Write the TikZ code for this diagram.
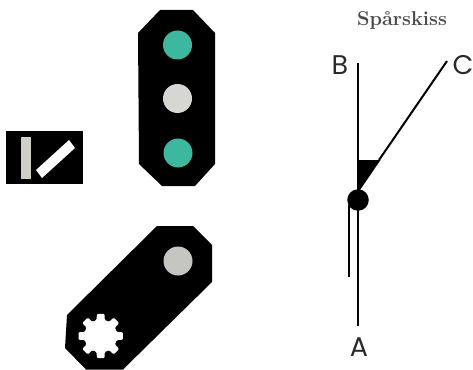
\documentclass[tikz,border=0pt]{standalone}
\usepackage{fontspec}
\setsansfont{Poppins}
\setmainfont{Latin Modern Roman}
\definecolor{lampgreen}{HTML}{3DB89E}
\definecolor{lampgrey}{HTML}{D6D6D2}
\definecolor{barwhite}{HTML}{FFFFFF}
\definecolor{barbeige}{HTML}{CFCFC8}
\definecolor{inkdark}{HTML}{2A2A2A}
\tikzset{
  lamp/.style={circle,minimum size=29pt,inner sep=0pt,draw=none},
  track/.style={line width=2pt,black,line cap=butt},
  tracklabel/.style={font=\sffamily\fontsize{27}{27}\selectfont,text=inkdark,inner sep=0pt},
  titlelabel/.style={font=\rmfamily\bfseries\fontsize{20}{20}\selectfont,text=inkdark!85,inner sep=0pt}
}
\begin{document}
\begin{tikzpicture}[x=1pt,y=-1pt]
\useasboundingbox (0,0) rectangle (473,369);
\clip (0,0) rectangle (473,369);
% main signal
\fill[black] (160,10)--(193,10)--(215,33)--(215,164)--(195,186)--(162,186)--(139,164)--(138,33)--cycle;
\node[lamp,fill=lampgreen] (g1) at (177.5,45) {};
\node[lamp,fill=lampgrey] (w1) at (177.5,98.5) {};
\node[lamp,fill=lampgreen] (g2) at (178,153) {};
% small indicator
\fill[black] (6,131) rectangle (83,184);
\fill[barbeige] (20.5,136.5) rectangle (30.5,179);
\fill[barwhite] (36,170)--(42,178)--(75,148)--(69,140)--cycle;
% dwarf signal
\fill[black] (157,226)--(193,226)--(212,245)--(212,282)--(123,369.5)--(86,369.5)--(65,348)--(67,315)--cycle;
\node[lamp,fill=lampgrey!92!black] (w2) at (178,261) {};
\fill[white,rounded corners=1.2pt,shift={(100.7,336)}]
  (80:22.5) \foreach \a in {90,135,...,405} { -- (\a-10:22.5) -- (\a+10:22.5) -- (\a+14:16.5) -- (\a+31:16.5) } -- cycle;
% track sketch
\node[titlelabel] (title) at (402,20) {Spårskiss};
\node[tracklabel] (B) at (340,65) {B};
\node[tracklabel] (C) at (463,65) {C};
\node[tracklabel] (A) at (359,347.5) {A};
\node[circle,fill=black,minimum size=21.5pt,inner sep=0pt] (sw) at (358,200) {};
\coordinate (bend) at (379,160);
\coordinate (Bend) at (357.5,63);
\coordinate (Cend) at (447,61);
\coordinate (Aend) at (357.5,326);
\coordinate (sTop) at (349,205);
\coordinate (sEnd) at (349,277);
\draw[track] (Bend) -- (Aend);
\draw[track] (bend) -- (Cend);
\draw[track] (sTop) -- (sEnd);
\fill[black] (357,160) -- (380.5,160) -- (358,193) -- cycle;
\end{tikzpicture}
\end{document}
